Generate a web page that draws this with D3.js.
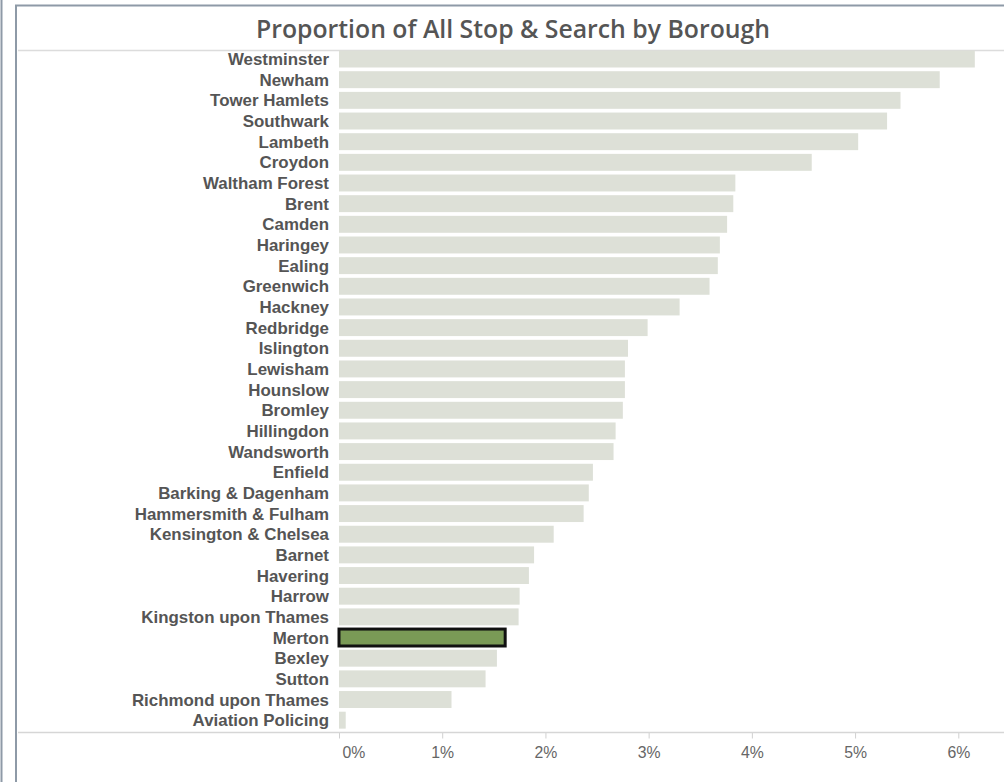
<!DOCTYPE html>
<html>
<head>
<meta charset="utf-8">
<script src="https://d3js.org/d3.v7.min.js"></script>
<style>
  body { margin: 0; background: #fff; }
  .rowLabel { font-family: Arial, "Liberation Sans", sans-serif; font-weight: bold; fill: #555; }
  .tickLabel { font-family: Arial, "Liberation Sans", sans-serif; fill: #666; }
</style>
</head>
<body>
<div class="chart"></div>
<script>
//////////////// STEP 1: DATA ////////////////

var boroughs = ["Westminster", "Newham", "Tower Hamlets", "Southwark", "Lambeth", "Croydon",
  "Waltham Forest", "Brent", "Camden", "Haringey", "Ealing", "Greenwich", "Hackney",
  "Redbridge", "Islington", "Lewisham", "Hounslow", "Bromley", "Hillingdon", "Wandsworth",
  "Enfield", "Barking & Dagenham", "Hammersmith & Fulham", "Kensington & Chelsea", "Barnet",
  "Havering", "Harrow", "Kingston upon Thames", "Merton", "Bexley", "Sutton",
  "Richmond upon Thames", "Aviation Policing"];

// share of all stop & search (%)
var shares = [6.16, 5.82, 5.44, 5.31, 5.03, 4.58,
  3.84, 3.82, 3.76, 3.69, 3.67, 3.59, 3.30,
  2.99, 2.80, 2.77, 2.77, 2.75, 2.68, 2.66,
  2.46, 2.42, 2.37, 2.08, 1.89,
  1.84, 1.75, 1.74, 1.61, 1.53, 1.42,
  1.09, 0.065];

var xTicks = [0, 1, 2, 3, 4, 5, 6];
var highlight = "Merton";

var data = boroughs.map((b, i) => ({ borough: b, share: shares[i] }));

//////////////// STEP 2: CHART AREA ////////////////

var svgWidth = 1004;
var svgHeight = 782;

var svg = d3.select(".chart")
  .append("svg")
  .attr("width", svgWidth)
  .attr("height", svgHeight);

// dashboard frame lines
svg.append("line")
  .attr("x1", 1.5).attr("x2", 1.5).attr("y1", 0).attr("y2", svgHeight)
  .attr("stroke", "#8e9aa7").attr("stroke-width", 2);
svg.append("line")
  .attr("x1", 16).attr("x2", 16).attr("y1", 5).attr("y2", svgHeight)
  .attr("stroke", "#8e9aa7").attr("stroke-width", 2);
svg.append("line")
  .attr("x1", 15).attr("x2", svgWidth).attr("y1", 5.5).attr("y2", 5.5)
  .attr("stroke", "#8e9aa7").attr("stroke-width", 2);

// title
svg.append("text")
  .attr("x", 513)
  .attr("y", 38)
  .attr("text-anchor", "middle")
  .style("font-family", "'Open Sans', sans-serif")
  .style("font-weight", 600)
  .style("font-size", "24.8px")
  .style("fill", "#555")
  .text("Proportion of All Stop & Search by Borough");

svg.append("line")
  .attr("x1", 18).attr("x2", svgWidth).attr("y1", 50.5).attr("y2", 50.5)
  .attr("stroke", "#dcdcdc").attr("stroke-width", 1.5);

//////////////// STEP 3: SCALES ////////////////

var xScale = d3.scaleLinear()
  .domain([0, 6])
  .range([339, 958.3]);

var yScale = d3.scaleBand()
  .domain(boroughs)
  .range([48.7, 730.5])
  .paddingInner(0.18)
  .paddingOuter(0.09);

//////////////// STEP 4: BARS + LABELS ////////////////

svg.selectAll(".bar")
  .data(data)
  .enter()
  .append("rect")
  .attr("class", "bar")
  .attr("x", xScale(0))
  .attr("y", d => yScale(d.borough))
  .attr("width", d => xScale(d.share) - xScale(0))
  .attr("height", yScale.bandwidth())
  .attr("fill", d => d.borough === highlight ? "#7a9a56" : "#dde0d7")
  .attr("stroke", d => d.borough === highlight ? "#111" : "none")
  .attr("stroke-width", 3);

svg.selectAll(".rowLabel")
  .data(data)
  .enter()
  .append("text")
  .attr("class", "rowLabel")
  .attr("x", 329)
  .attr("y", d => yScale(d.borough) + yScale.bandwidth() / 2)
  .attr("dy", "0.36em")
  .attr("text-anchor", "end")
  .style("font-size", "16.9px")
  .text(d => d.borough);

//////////////// STEP 5: X AXIS ////////////////

var bottomAxis = d3.axisBottom(xScale)
  .tickValues(xTicks)
  .tickSize(6)
  .tickFormat(d => d + "%");

var axisGroup = svg.append("g")
  .attr("transform", "translate(0, 732.5)")
  .call(bottomAxis);

axisGroup.select(".domain").remove();
axisGroup.selectAll(".tick line").attr("stroke", "#d0d0d0");
axisGroup.selectAll(".tick text")
  .attr("class", "tickLabel")
  .attr("y", 14)
  .style("font-size", "15.8px");
// first label is nudged inside the view
axisGroup.selectAll(".tick text")
  .filter(d => d === 0)
  .attr("text-anchor", "start")
  .attr("x", 3);

svg.append("line")
  .attr("x1", 18).attr("x2", svgWidth).attr("y1", 732.5).attr("y2", 732.5)
  .attr("stroke", "#d6d6d6").attr("stroke-width", 1.5);
</script>
</body>
</html>
